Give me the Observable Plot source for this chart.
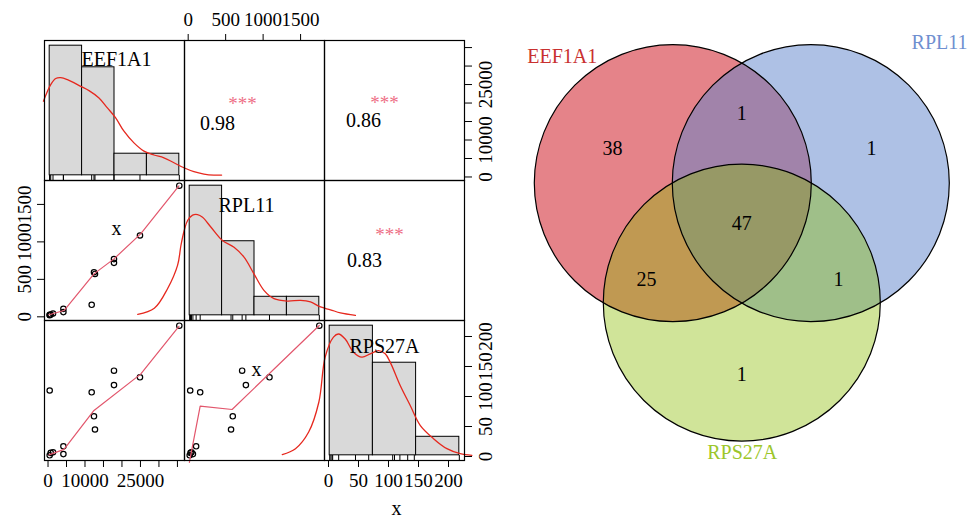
<!DOCTYPE html>
<html>
<head>
<meta charset="utf-8">
<script src="https://cdn.jsdelivr.net/npm/d3@7"></script>
<script src="https://cdn.jsdelivr.net/npm/@observablehq/plot@0.6"></script>
<style>
  html, body { margin: 0; padding: 0; background: #fff; }
  #chart { position: relative; width: 971px; height: 522px; overflow: hidden; }
  #chart svg { position: absolute; left: 0; top: 0; }
</style>
</head>
<body>
<div id="chart"></div>
<script>
// ================= DATA =================
const genes = ["EEF1A1", "RPL11", "RPS27A"];
const EEF1A1 = [450, 450, 730, 1350, 4160, 4160, 11810, 12430, 12700, 17840, 17840, 24870, 35510];
const RPL11  = [27, 20, 31, 44, 106, 63, 160, 595, 572, 720, 770, 1085, 1750];
const RPS27A = [110, 2, 6, 7, 17, 4, 107, 67, 45, 143, 119, 132, 218];
const histBins = [4, 4, 3];

// correlation panels: [EEF1A1~RPL11, EEF1A1~RPS27A, RPL11~RPS27A]
const corLabels = ["0.98", "0.86", "0.83"];
const corStars = ["***", "***", "***"];

// axis ticks
const eefTicks = [0, 5000, 10000, 15000, 20000, 25000, 30000, 35000];
const eefTickLabels = [0, 10000, 25000];
const rplTicks = [0, 500, 1000, 1500];
const rpsTicks = [0, 50, 100, 150, 200];

// density curves (x in gene units, y in histogram count units)
const eefDensX = [-1243, 730, 2081, 3432, 5243, 8838, 11081, 13784, 16054, 18297, 20540, 23243, 25946, 28649, 31351, 34054, 36757, 39459, 42162, 44865, 46946];
const eefDensY = [3.43, 4.20, 4.48, 4.52, 4.43, 4.12, 3.92, 3.58, 3.12, 2.66, 2.04, 1.50, 1.12, 0.94, 0.81, 0.58, 0.35, 0.17, 0.06, 0.01, 0.01];
const rplDensX = [-673, -452, -274, -141, -97, -53, -8, 59, 125, 192, 302, 458, 612, 745, 878, 1011, 1145, 1323, 1500, 1633, 1766, 1899, 2032, 2232];
const rplDensY = [0.05, 0.38, 1.45, 2.71, 3.77, 4.58, 5.12, 5.41, 5.44, 5.29, 4.77, 4.04, 3.68, 3.14, 2.24, 1.35, 0.90, 0.77, 0.81, 0.72, 0.45, 0.30, 0.13, 0];
const rpsDensX = [-77, -55, -33, -16, -5.5, 8.3, 16.7, 27.8, 41.7, 55.7, 69.5, 83.3, 94.5, 102.8, 119.5, 136.2, 152.8, 175, 197.3, 219.5, 239];
const rpsDensY = [0.04, 0.36, 1.26, 2.88, 5.31, 6.38, 6.55, 6.28, 5.57, 5.30, 5.48, 5.65, 5.48, 5.03, 3.77, 2.69, 1.62, 0.90, 0.36, 0.09, 0];

// smoothed fit lines in scatter panels
const fitEefRplX = [270, 4324, 12432, 17838, 25054, 35405];
const fitEefRplY = [27, 84, 573, 773, 1107, 1747];
const fitEefRpsX = [270, 4324, 12432, 25054, 35405];
const fitEefRpsY = [2.8, 12, 76.7, 137.3, 217];
const fitRplRpsX = [16, 160, 586, 1749];
const fitRplRpsY = [-9.7, 84, 78.3, 218.3];

// Venn diagram
const vennSets = ["EEF1A1", "RPL11", "RPS27A"];
const vennRegions = ["EEF1A1", "EEF1A1&RPL11", "RPL11", "EEF1A1&RPL11&RPS27A", "EEF1A1&RPS27A", "RPL11&RPS27A", "RPS27A"];
const vennCounts = [38, 1, 1, 47, 25, 1, 1];

// ================= LAYOUT / STYLE =================
const W = 971, H = 522;
const FONT = "'Liberation Serif', 'DejaVu Serif', serif";
const colX = [44, 184, 324], rowY = [40, 180, 320], PS = 140;
const STYLE = {background: "transparent", overflow: "visible", fontFamily: FONT};
const DENS_COLOR = "#e6281e", FIT_COLOR = "#e2566c", STAR_COLOR = "#ee6f86";
const vennColors = ["#cb0713", "#5d83cb", "#89bb00"];
const vennOpacity = [0.5, 0.5, 0.4];
const vennLabelColors = ["#c9302f", "#6f8fd0", "#9cc62b"];
const vennLayout = {
  centers: [[-0.5, 0], [0.5, 0], [0, 0.866]],
  regionPos: [[-0.937, -0.253], [0, -0.507], [0.94, -0.253], [0, 0.291], [-0.69, 0.70], [0.70, 0.70], [0, 1.387]],
  setLabelPos: [[-1.301, -0.917], [1.433, -1.021], [0.003, 1.952]],
  xRange: [603.3, 879.3], yRange: [44.6, 320.6], radiusPx: 138.5
};

// ================= BUILD =================
const chart = document.getElementById("chart");
const vars = [EEF1A1, RPL11, RPS27A];
const samples = EEF1A1.map((e, i) => ({EEF1A1: e, RPL11: RPL11[i], RPS27A: RPS27A[i]}));
const padDomain = v => { const [a, b] = d3.extent(v); const p = 0.04 * (b - a); return [a - p, b + p]; };
const domains = vars.map(padDomain);
const dens = [
  eefDensX.map((x, i) => ({x, y: eefDensY[i]})),
  rplDensX.map((x, i) => ({x, y: rplDensY[i]})),
  rpsDensX.map((x, i) => ({x, y: rpsDensY[i]}))
];
const fits = {
  "1,0": fitEefRplX.map((x, i) => ({x, y: fitEefRplY[i]})),
  "2,0": fitEefRpsX.map((x, i) => ({x, y: fitEefRpsY[i]})),
  "2,1": fitRplRpsX.map((x, i) => ({x, y: fitRplRpsY[i]}))
};
const corIndex = {"0,1": 0, "0,2": 1, "1,2": 2};

function margins(c, r) {
  return {marginLeft: colX[c], marginRight: W - colX[c] - PS, marginTop: rowY[r], marginBottom: H - rowY[r] - PS};
}
function add(svg) { chart.appendChild(svg); }

// offsets of labels from panel centre (pixels)
const diagLabelOff = [[2, -51], [-8, -45], [-10, -44]];
const corTextOff = {"0,1": [-37, 13, -12, -7], "0,2": [-31, 10, -10, -8], "1,2": [-30, 10, -5, -16]};
const xMarkOff = {"1,0": [2, -22], "2,1": [2, -21]};

for (let r = 0; r < 3; r++) {
  for (let c = 0; c < 3; c++) {
    const key = `${r},${c}`;
    let marks = [], yDomain;
    if (r === c) {
      const g = genes[c], v = vars[c];
      const [a, b] = d3.extent(v);
      const thresholds = d3.range(1, histBins[c]).map(k => a + k * (b - a) / histBins[c]);
      const bins = d3.bin().domain([a, b]).thresholds(thresholds)(v);
      const hist = bins.map(bb => ({x1: bb.x0, x2: bb.x1, count: bb.length}));
      const m = d3.max(hist, d => d.count);
      yDomain = [-0.04 * m, 1.04 * m];
      marks = [
        Plot.rectY(hist, {x1: "x1", x2: "x2", y: "count", fill: "#d9d9d9", stroke: "black", strokeWidth: 1}),
        Plot.tickX(samples, {x: g, insetTop: PS - 5, stroke: "black", strokeWidth: 1}),
        Plot.line(dens[c], {x: "x", y: "y", stroke: DENS_COLOR, strokeWidth: 1.3, curve: "catmull-rom"}),
        Plot.text([g], {frameAnchor: "middle", dx: diagLabelOff[c][0], dy: diagLabelOff[c][1], fontSize: 20, fill: "black"})
      ];
      if (c === 2) marks.push(Plot.text(["x"], {frameAnchor: "middle", dx: 2, dy: 118, fontSize: 20, fill: "black"}));
    } else if (r > c) {
      yDomain = domains[r];
      marks = [
        Plot.dot(samples, {x: genes[c], y: genes[r], r: 2.7, stroke: "black", strokeWidth: 1.2}),
        Plot.line(fits[key], {x: "x", y: "y", stroke: FIT_COLOR, strokeWidth: 1.2}),
      ];
      if (xMarkOff[key]) marks.push(Plot.text(["x"], {frameAnchor: "middle", dx: xMarkOff[key][0], dy: xMarkOff[key][1], fontSize: 20, fill: "black"}));
    } else {
      yDomain = domains[r];
      const idx = corIndex[key], o = corTextOff[key];
      marks = [
        Plot.text([corLabels[idx]], {frameAnchor: "middle", dx: o[0], dy: o[1], fontSize: 20, fill: "black"}),
        Plot.text([corStars[idx]], {frameAnchor: "middle", dx: o[2], dy: o[3], fontSize: 19, fill: STAR_COLOR})
      ];
    }
    marks.push(Plot.frame({stroke: "black", strokeWidth: 1.2}));
    add(Plot.plot({
      width: W, height: H, ...margins(c, r), style: STYLE,
      x: {domain: domains[c], axis: null},
      y: {domain: yDomain, axis: null},
      marks
    }));
  }
}

// ----- axes (R pairs style, alternating sides) -----
const fmt = d => String(d);
// top axis, column 2 (RPL11)
add(Plot.plot({width: W, height: H, ...margins(1, 0), style: STYLE, x: {domain: domains[1]},
  marks: [Plot.axisX({anchor: "top", ticks: rplTicks, tickSize: 7, tickPadding: 8, fontSize: 19, tickFormat: fmt})]}));
// right axis, row 1 (EEF1A1)
add(Plot.plot({width: W, height: H, ...margins(2, 0), style: STYLE, y: {domain: domains[0]},
  marks: [
    Plot.axisY({anchor: "right", ticks: eefTicks, tickSize: 7, tickFormat: () => ""}),
    Plot.axisY({anchor: "right", ticks: eefTickLabels, tickSize: 0, tickPadding: 14, tickRotate: -90, textAnchor: "middle", lineAnchor: "top", fontSize: 19, tickFormat: fmt})
  ]}));
// left axis, row 2 (RPL11)
add(Plot.plot({width: W, height: H, ...margins(0, 1), style: STYLE, y: {domain: domains[1]},
  marks: [Plot.axisY({anchor: "left", ticks: rplTicks, tickSize: 7, tickPadding: 7, tickRotate: -90, textAnchor: "middle", lineAnchor: "bottom", fontSize: 19, tickFormat: fmt})]}));
// bottom axis, column 1 (EEF1A1)
add(Plot.plot({width: W, height: H, ...margins(0, 2), style: STYLE, x: {domain: domains[0]},
  marks: [
    Plot.axisX({anchor: "bottom", ticks: eefTicks, tickSize: 7, tickFormat: () => ""}),
    Plot.axisX({anchor: "bottom", ticks: eefTickLabels, tickSize: 0, tickPadding: 13, fontSize: 19, tickFormat: fmt})
  ]}));
// bottom axis, column 3 (RPS27A)
add(Plot.plot({width: W, height: H, ...margins(2, 2), style: STYLE, x: {domain: domains[2]},
  marks: [Plot.axisX({anchor: "bottom", ticks: rpsTicks, tickSize: 7, tickPadding: 6, fontSize: 19, tickFormat: fmt})]}));
// right axis, row 3 (RPS27A)
add(Plot.plot({width: W, height: H, ...margins(2, 2), style: STYLE, y: {domain: domains[2]},
  marks: [Plot.axisY({anchor: "right", ticks: rpsTicks, tickSize: 7, tickPadding: 7, tickRotate: -90, textAnchor: "middle", lineAnchor: "top", fontSize: 19, tickFormat: fmt})]}));

// ----- Venn diagram -----
const vennCircles = vennSets.map((s, i) => ({set: s, cx: vennLayout.centers[i][0], cy: vennLayout.centers[i][1], color: vennColors[i], op: vennOpacity[i], label: vennLabelColors[i], lx: vennLayout.setLabelPos[i][0], ly: vennLayout.setLabelPos[i][1]}));
const vennText = vennRegions.map((reg, i) => ({region: reg, count: vennCounts[i], x: vennLayout.regionPos[i][0], y: vennLayout.regionPos[i][1]}));
add(Plot.plot({
  width: W, height: H, margin: 0, style: STYLE,
  x: {domain: [-1, 1], range: vennLayout.xRange, axis: null},
  y: {domain: [-1, 1], range: vennLayout.yRange, axis: null},
  color: {type: "identity"},
  marks: [
    ...vennCircles.map(cc => Plot.dot([cc], {x: "cx", y: "cy", r: vennLayout.radiusPx, fill: "color", fillOpacity: cc.op, stroke: null})),
    Plot.dot(vennCircles, {x: "cx", y: "cy", r: vennLayout.radiusPx, fill: "none", stroke: "black", strokeWidth: 1.2}),
    Plot.text(vennText, {x: "x", y: "y", text: d => String(d.count), fontSize: 20, fill: "black"}),
    Plot.text(vennCircles, {x: "lx", y: "ly", text: "set", fill: "label", fontSize: 20})
  ]
}));
</script>
</body>
</html>
